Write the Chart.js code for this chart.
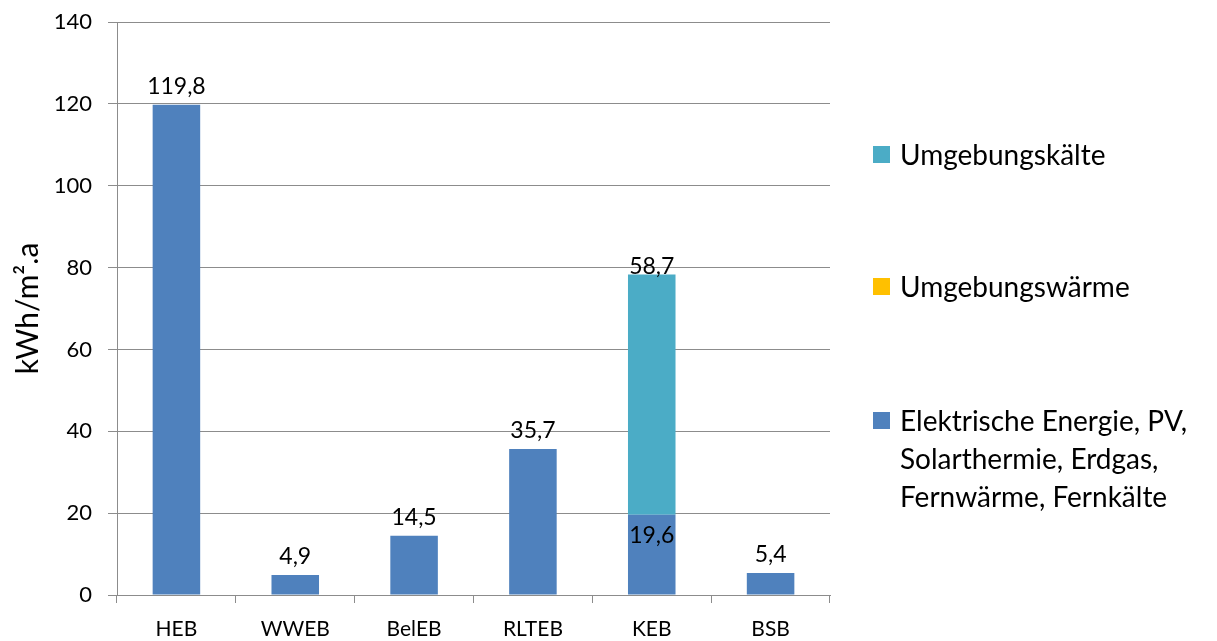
<!DOCTYPE html>
<html lang="de">
<head>
<meta charset="utf-8">
<title>Endenergiebedarf</title>
<script src="https://cdn.jsdelivr.net/npm/chart.js@4/dist/chart.umd.min.js"></script>
<style>
    body { margin: 0; background: #fff; }
    #wrap { position: relative; width: 1217px; height: 641px; }
    #legend { position: absolute; left: 873px; top: 0; font-family: Lato, sans-serif; font-size: 28px; color: #000; }
    .item { position: absolute; left: 0; white-space: nowrap; display: flex; align-items: flex-start; }
    .box { width: 17px; height: 17px; margin-top: 11px; margin-right: 10px; flex: none; }
    .txt { line-height: 38px; }
</style>
</head>
<body>
<div id="wrap">
    <canvas id="energyChart" width="1217" height="641"></canvas>
    <div id="legend"></div>
</div>
<script>
// categories and series (kWh/m².a)
var categories = ['HEB', 'WWEB', 'BelEB', 'RLTEB', 'KEB', 'BSB'];
var elektrisch = [119.8, 4.9, 14.5, 35.7, 19.6, 5.4];
var umgebungsWaerme = [0, 0, 0, 0, 0, 0];
var umgebungsKaelte = [0, 0, 0, 0, 58.7, 0];
var yTicks = [0, 20, 40, 60, 80, 100, 120, 140];

var seriesNames = [
    ['Elektrische Energie, PV,', 'Solarthermie, Erdgas,', 'Fernwärme, Fernkälte'],
    ['Umgebungswärme'],
    ['Umgebungskälte']
];
var seriesColors = ['#4f81bd', '#ffc000', '#4bacc6'];

var gridColor = '#8c8c8c';
var labelFont = { family: 'Lato, sans-serif', size: 23 };

function fmt(v) {
    return v.toFixed(1).replace('.', ',');
}

// value labels: above the top segment, inside when something is stacked on it
var barLabels = {
    id: 'barLabels',
    afterDatasetsDraw: function (chart) {
        var ctx = chart.ctx;
        var sets = chart.data.datasets;
        ctx.save();
        ctx.font = labelFont.size + 'px ' + labelFont.family;
        ctx.fillStyle = '#000';
        ctx.textAlign = 'center';
        sets.forEach(function (ds, di) {
            var meta = chart.getDatasetMeta(di);
            meta.data.forEach(function (bar, i) {
                var v = ds.data[i];
                if (!v) return;
                var covered = sets.some(function (o, oi) { return oi > di && o.data[i] > 0; });
                if (covered) {
                    ctx.textBaseline = 'top';
                    ctx.fillText(fmt(v), bar.x, bar.y + 9);
                } else {
                    ctx.textBaseline = 'alphabetic';
                    ctx.fillText(fmt(v), bar.x, bar.y - ds.labelGap);
                }
            });
        });
        ctx.restore();
    }
};

var ctx = document.getElementById('energyChart').getContext('2d');
var energyChart = new Chart(ctx, {
    type: 'bar',
    data: {
        labels: categories,
        datasets: [{
            label: seriesNames[0].join(' '),
            data: elektrisch,
            backgroundColor: seriesColors[0],
            labelGap: 11
        }, {
            label: seriesNames[1].join(' '),
            data: umgebungsWaerme,
            backgroundColor: seriesColors[1],
            labelGap: 11
        }, {
            label: seriesNames[2].join(' '),
            data: umgebungsKaelte,
            backgroundColor: seriesColors[2],
            labelGap: 1
        }]
    },
    options: {
        responsive: false,
        animation: false,
        layout: { padding: { top: 22, right: 387, left: 0, bottom: 0 } },
        datasets: { bar: { barPercentage: 0.4, categoryPercentage: 1 } },
        plugins: {
            legend: { display: false },
            tooltip: { enabled: false }
        },
        scales: {
            x: {
                stacked: true,
                afterFit: function (s) { s.height = 46; s.paddingLeft = 0; s.paddingRight = 0; },
                grid: { drawOnChartArea: false, drawTicks: true, tickLength: 8, color: gridColor, offset: true },
                border: { color: gridColor },
                ticks: { color: '#000', font: { family: 'Lato, sans-serif', size: 21 }, padding: 14 }
            },
            y: {
                stacked: true,
                min: 0,
                max: 140,
                afterFit: function (s) { s.width = 117; s.paddingTop = 0; s.paddingBottom = 0; },
                afterBuildTicks: function (s) {
                    s.ticks = yTicks.map(function (v) { return { value: v }; });
                },
                grid: { color: gridColor, tickLength: 9 },
                border: { color: gridColor },
                ticks: { color: '#000', font: { family: 'Lato, sans-serif', size: 22 }, padding: 16 },
                title: {
                    display: true,
                    text: 'kWh/m².a',
                    color: '#000',
                    font: { family: 'Lato, sans-serif', size: 30 },
                    padding: { top: 10, bottom: 0 }
                }
            }
        }
    },
    plugins: [barLabels]
});

// legend on the right, listed top-down in reverse stacking order
var legendTops = [135, 267, 401];
var legend = document.getElementById('legend');
for (var k = seriesNames.length - 1; k >= 0; k--) {
    var item = document.createElement('div');
    item.className = 'item';
    item.style.top = legendTops[seriesNames.length - 1 - k] + 'px';
    var box = document.createElement('span');
    box.className = 'box';
    box.style.background = seriesColors[k];
    var txt = document.createElement('span');
    txt.className = 'txt';
    txt.innerHTML = seriesNames[k].join('<br>');
    item.appendChild(box);
    item.appendChild(txt);
    legend.appendChild(item);
}
</script>
</body>
</html>
